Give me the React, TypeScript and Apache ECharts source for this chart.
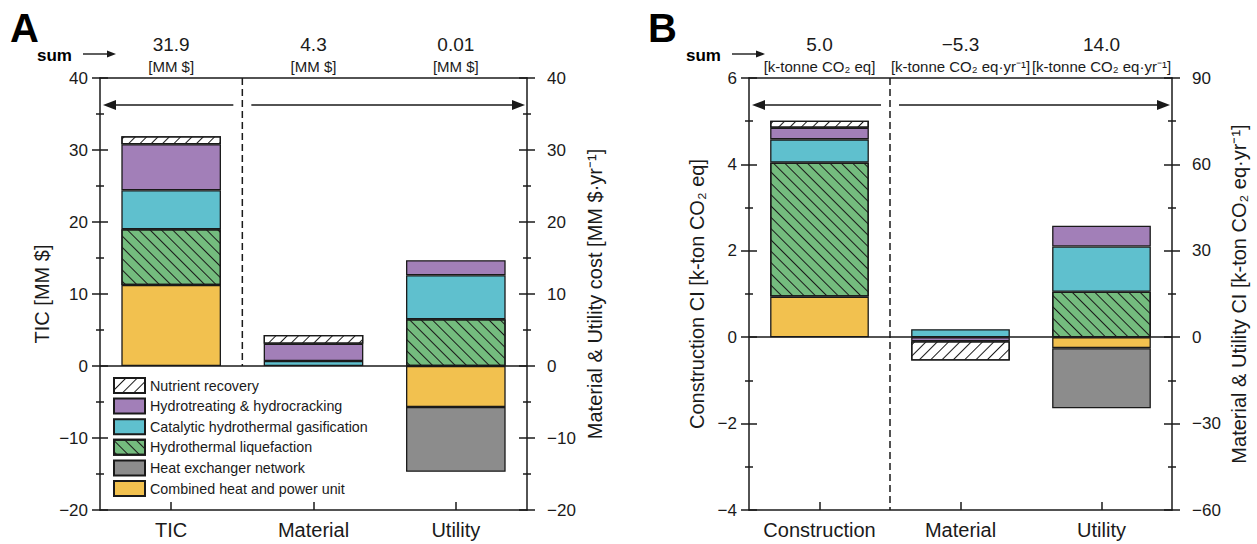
import React, { useEffect, useRef } from "react";
import * as echarts from "echarts";

// ---------- data ----------
const categoriesA = ["TIC", "Material", "Utility"];
const categoriesB = ["Construction", "Material", "Utility"];

// components, in stacking order (bottom -> top)
const components = [
  "Combined heat and power unit",
  "Heat exchanger network",
  "Hydrothermal liquefaction",
  "Catalytic hydrothermal gasification",
  "Hydrotreating & hydrocracking",
  "Nutrient recovery",
];
const legendOrder = [
  "Nutrient recovery",
  "Hydrotreating & hydrocracking",
  "Catalytic hydrothermal gasification",
  "Hydrothermal liquefaction",
  "Heat exchanger network",
  "Combined heat and power unit",
];

// Panel A (MM $ ; MM $/yr), values per component in the order above
const ticA = [11.25, null, 7.75, 5.4, 6.4, 1.1];
const materialA = [null, null, null, 0.7, 2.4, 1.2];
const utilityA = [-5.7, -9.0, 6.5, 6.1, 2.1, null];

// Panel B (k-tonne CO2 eq ; k-tonne CO2 eq/yr)
const constructionB = [0.94, null, 3.1, 0.54, 0.27, 0.16];
const materialB = [null, null, null, 2.8, -1.4, -6.7];
const utilityB = [-3.8, -20.9, 15.8, 15.7, 7.2, null];

// sums printed above the bars
const sumsA = ["31.9", "4.3", "0.01"];
const unitsA = ["[MM $]", "[MM $]", "[MM $]"];
const sumsB = ["5.0", "\u22125.3", "14.0"];
const unitsB = ["[k-tonne CO\u2082 eq]", "[k-tonne CO\u2082 eq\u00b7yr\u207b\u00b9]", "[k-tonne CO\u2082 eq\u00b7yr\u207b\u00b9]"];

// axes
const axisA = { leftMin: -20, leftMax: 40, leftStep: 10, rightMin: -20, rightMax: 40, rightStep: 10 };
const axisB = { leftMin: -4, leftMax: 6, leftStep: 2, rightMin: -60, rightMax: 90, rightStep: 30 };
const axisNamesA = ["TIC [MM $]", "Material & Utility cost [MM $\u00b7yr\u207b\u00b9]"];
const axisNamesB = ["Construction CI [k-ton CO\u2082 eq]", "Material & Utility CI [k-ton CO\u2082 eq\u00b7yr\u207b\u00b9]"];

// ---------- styles ----------
const FONT = '"Liberation Sans", Arial, Helvetica, sans-serif';
const INK = "#1a1a1a";
const colors: Record<string, string> = {
  "Combined heat and power unit": "#F2C14F",
  "Heat exchanger network": "#8C8C8C",
  "Hydrothermal liquefaction": "#74BC7E",
  "Catalytic hydrothermal gasification": "#5FC0CE",
  "Hydrotreating & hydrocracking": "#A27FB8",
  "Nutrient recovery": "#FFFFFF",
};
const hatch = (rot: number) => ({
  symbol: "rect",
  symbolSize: 1,
  dashArrayX: [1, 0],
  dashArrayY: [1, 6.8],
  rotation: rot,
  color: INK,
});
const decals: Record<string, any> = {
  "Nutrient recovery": hatch(-Math.PI / 4),
  "Hydrothermal liquefaction": hatch(Math.PI / 4),
};

const PA = { left: 100, top: 78, width: 427, height: 432 };
const PB = { left: 749, top: 78, width: 423, height: 432 };

const fmt = (v: number) => (v < 0 ? "\u2212" + Math.abs(v) : String(v));

function yAxes(grid: number, side: "left" | "right", min: number, max: number, step: number, name: string, nameGap: number, margin: number) {
  const line = { color: INK, width: 1.5 };
  const base: any = {
    type: "value",
    gridIndex: grid,
    position: side,
    min,
    max,
    interval: step,
    splitLine: { show: false },
    minorSplitLine: { show: false },
  };
  return [
    {
      ...base,
      axisLine: { show: true, lineStyle: line },
      axisTick: { show: true, inside: false, length: 8, lineStyle: line },
      minorTick: { show: true, splitNumber: 2, length: 4, lineStyle: line },
      axisLabel: { show: true, fontSize: 17, color: INK, fontFamily: FONT, margin, formatter: fmt },
      name,
      nameLocation: "middle",
      nameGap,
      nameTextStyle: { fontSize: 20, color: INK, fontFamily: FONT },
    },
    {
      ...base,
      axisLine: { show: false },
      axisTick: { show: true, inside: true, length: 8, lineStyle: line },
      minorTick: { show: true, splitNumber: 2, length: 4, lineStyle: line },
      axisLabel: { show: false },
    },
  ];
}

function xAxes(grid: number, cats: string[]) {
  const line = { color: INK, width: 1.5 };
  return [
    {
      type: "category",
      gridIndex: grid,
      position: "bottom",
      data: cats,
      axisLine: { show: true, onZero: false, lineStyle: line },
      axisTick: { show: true, inside: true, length: 8, alignWithLabel: true, lineStyle: line },
      axisLabel: { fontSize: 20, color: INK, fontFamily: FONT, margin: 10, interval: 0 },
    },
    {
      type: "category",
      gridIndex: grid,
      position: "top",
      data: cats,
      axisLine: { show: true, onZero: false, lineStyle: line },
      axisTick: { show: false },
      axisLabel: { show: false },
    },
  ];
}

function panelSeries(xIdx: number, yLeft: number, yRight: number, left: (number | null)[], mid: (number | null)[], right: (number | null)[], tag: string) {
  const out: any[] = [];
  components.forEach((name, j) => {
    const itemStyle: any = { color: colors[name], borderColor: INK, borderWidth: 1.3 };
    if (decals[name]) itemStyle.decal = decals[name];
    const v = (x: number | null) => (x === null ? "-" : x);
    const s1: any = {
      type: "bar",
      name,
      xAxisIndex: xIdx,
      yAxisIndex: yLeft,
      stack: tag + "L",
      barWidth: "70%",
      barGap: "-100%",
      itemStyle,
      data: [v(left[j]), "-", "-"],
    };
    if (j === 0) {
      s1.markLine = {
        silent: true,
        symbol: ["none", "none"],
        label: { show: false },
        lineStyle: { color: INK, width: 1.5, type: "solid" },
        data: [{ yAxis: 0 }],
      };
    }
    out.push(s1);
    out.push({
      type: "bar",
      name,
      xAxisIndex: xIdx,
      yAxisIndex: yRight,
      stack: tag + "R",
      barWidth: "70%",
      barGap: "-100%",
      itemStyle,
      data: ["-", v(mid[j]), v(right[j])],
    });
  });
  return out;
}

function panelGraphics(P: typeof PA, letter: string, letterX: number, sums: string[], units: string[], unitSize: number, divBottom: number) {
  const g: any[] = [];
  const cw = P.width / 3;
  const divX = P.left + cw;
  // panel letter
  g.push({ type: "text", x: letterX, y: 28, style: { text: letter, fontSize: 40, fontWeight: "bold", fontFamily: FONT, fill: "#000", verticalAlign: "middle", align: "left" } });
  // sum ->
  g.push({ type: "text", x: P.left - 63, y: 55, style: { text: "sum", fontSize: 17, fontWeight: "bold", fontFamily: FONT, fill: "#000", verticalAlign: "middle", align: "left" } });
  g.push({ type: "line", shape: { x1: P.left - 17, y1: 54, x2: P.left + 10, y2: 54 }, style: { stroke: INK, lineWidth: 1.4 } });
  g.push({ type: "polygon", shape: { points: [[P.left + 16, 54], [P.left + 7, 50.5], [P.left + 7, 57.5]] }, style: { fill: INK } });
  // sums & units
  for (let i = 0; i < 3; i++) {
    const cx = P.left + cw * (i + 0.5);
    g.push({ type: "text", x: cx, y: 44, style: { text: sums[i], fontSize: 19, fontFamily: FONT, fill: INK, align: "center", verticalAlign: "middle" } });
    g.push({ type: "text", x: cx, y: 66, style: { text: units[i], fontSize: unitSize, fontFamily: FONT, fill: INK, align: "center", verticalAlign: "middle" } });
  }
  // dashed divider
  g.push({ type: "line", shape: { x1: divX, y1: P.top, x2: divX, y2: divBottom }, style: { stroke: INK, lineWidth: 1.5, lineDash: [7, 4] } });
  // double arrow
  const ay = 105;
  const l0 = P.left + 3, r0 = P.left + P.width - 2;
  g.push({ type: "line", shape: { x1: l0 + 8, y1: ay, x2: divX - 9, y2: ay }, style: { stroke: INK, lineWidth: 1.5 } });
  g.push({ type: "polygon", shape: { points: [[l0, ay], [l0 + 13, ay - 5], [l0 + 13, ay + 5]] }, style: { fill: INK } });
  g.push({ type: "line", shape: { x1: divX + 9, y1: ay, x2: r0 - 8, y2: ay }, style: { stroke: INK, lineWidth: 1.5 } });
  g.push({ type: "polygon", shape: { points: [[r0, ay], [r0 - 13, ay - 5], [r0 - 13, ay + 5]] }, style: { fill: INK } });
  return g;
}

export default function App() {
  const ref = useRef<HTMLDivElement>(null);
  useEffect(() => {
    if (!ref.current) return;
    const chart = echarts.init(ref.current, undefined, { renderer: "svg" });
    const zeroA = PA.top + (PA.height * axisA.leftMax) / (axisA.leftMax - axisA.leftMin);
    const option: any = {
      animation: false,
      backgroundColor: "#ffffff",
      textStyle: { fontFamily: FONT },
      grid: [
        { left: PA.left, top: PA.top, width: PA.width, height: PA.height, containLabel: false },
        { left: PB.left, top: PB.top, width: PB.width, height: PB.height, containLabel: false },
      ],
      xAxis: [...xAxes(0, categoriesA), ...xAxes(1, categoriesB)],
      yAxis: [
        ...yAxes(0, "left", axisA.leftMin, axisA.leftMax, axisA.leftStep, axisNamesA[0], 48, 12),
        ...yAxes(0, "right", axisA.rightMin, axisA.rightMax, axisA.rightStep, axisNamesA[1], 58, 20),
        ...yAxes(1, "left", axisB.leftMin, axisB.leftMax, axisB.leftStep, axisNamesB[0], 42, 12),
        ...yAxes(1, "right", axisB.rightMin, axisB.rightMax, axisB.rightStep, axisNamesB[1], 57, 20),
      ],
      legend: {
        show: true,
        orient: "vertical",
        left: 113,
        top: 377,
        padding: 0,
        itemWidth: 31,
        itemHeight: 15,
        itemGap: 3.6,
        icon: "rect",
        selectedMode: false,
        textStyle: { fontSize: 14.3, color: INK, fontFamily: FONT },
        data: legendOrder,
      },
      series: [
        ...panelSeries(0, 0, 2, ticA, materialA, utilityA, "A"),
        ...panelSeries(2, 4, 6, constructionB, materialB, utilityB, "B"),
      ],
      graphic: [
        ...panelGraphics(PA, "A", 10, sumsA, unitsA, 15, zeroA),
        ...panelGraphics(PB, "B", 648, sumsB, unitsB, 15, PB.top + PB.height),
      ],
    };
    chart.setOption(option);
    return () => chart.dispose();
  }, []);
  return <div ref={ref} style={{ position: "fixed", left: 0, top: 0, width: 1257, height: 544 }} />;
}
